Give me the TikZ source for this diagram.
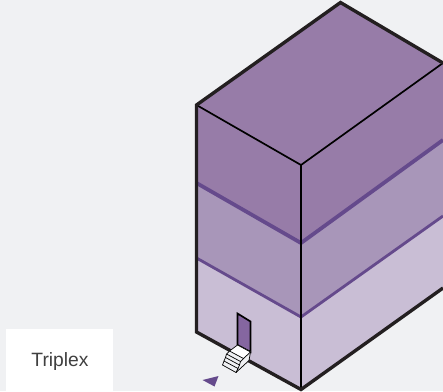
\documentclass[tikz,border=0pt]{standalone}
\usepackage{fontspec}
\setmainfont{Liberation Sans}
\usepackage{xcolor}
\definecolor{tpbg}{RGB}{240,241,243}
\definecolor{tptop}{RGB}{151,124,168}
\definecolor{tpmid}{RGB}{168,150,185}
\definecolor{tplow}{RGB}{201,190,213}
\definecolor{tpline}{RGB}{101,74,140}
\definecolor{tpdoor}{RGB}{133,102,160}
\definecolor{tpdark}{RGB}{35,31,32}
\tikzset{
  outline/.style={tpdark, line width=2.4pt, line join=miter},
  edgeline/.style={black, line width=1.2pt},
  floorline/.style={tpline, line width=#1},
  stepline/.style={black, line width=0.5pt}
}

\begin{document}
\begin{tikzpicture}[x=0.025cm, y=-0.025cm]
  % Background
  \fill[tpbg] (0,0) rectangle (443,391);
  \useasboundingbox (0,0) rectangle (443,391);

  % Label box
  \fill[white] (6,329) rectangle (113,391);
  \node[font=\fontsize{13.7}{16}\selectfont, text=black!75, anchor=center] (label) at (60,362) {Triplex};

  % Floors
  \fill[tplow] (196.5,258) -- (301,317) -- (443,216) -- (443,288) -- (301,389.5) -- (196.5,332) -- cycle;
  \fill[tpmid] (196.5,183) -- (301,243) -- (443,140) -- (443,216) -- (301,317) -- (196.5,258) -- cycle;
  \fill[tptop] (340.5,2.5) -- (443,63) -- (443,140) -- (301,243) -- (196.5,183) -- (196.5,105) -- cycle;

  % Floor lines
  \draw[floorline=2.7pt] (196.5,183) -- (301,243) -- (443,140);
  \draw[floorline=2pt] (196.5,258) -- (301,317) -- (443,216);

  % Inner edges
  \draw[edgeline] (196.5,105) -- (301,165) -- (443,63);
  \draw[edgeline] (301,165) -- (301,389.5);

  % Door
  \draw[fill=tpdoor, draw=black, line width=1.2pt] (237.5,345) -- (237.5,313.5) -- (250.5,321.5) -- (250.5,352) -- cycle;

  % Outline
  \draw[outline] (443,288) -- (301,389.5) -- (196.5,332) -- (196.5,105) -- (340.5,2.5) -- (443,63);

  % Stairs
  \draw[fill=tpbg, draw=none] (237.5,345) -- (250.5,352) -- (249,360.5) -- (236,372.5) -- (222.5,365) -- (224,360) -- (229.5,351) -- cycle;
  \draw[stepline, fill=white] (237.5,345) -- (250.5,352) -- (243.5,358.5) -- (229.5,351) -- cycle;
  \draw[stepline] (250.5,352) -- (249,360.5) -- (236,372.5);
  \draw[stepline] (229.5,351) -- (226.5,354) -- (240.5,361.5) -- (243.5,358.5);
  \draw[stepline] (226.5,354) -- (225.5,357.5) -- (239.5,365) -- (240.5,361.5);
  \draw[stepline] (225.5,357.5) -- (224,361) -- (238,368.5) -- (239.5,365);
  \draw[stepline] (224,361) -- (222.5,365) -- (236,372.5) -- (238,368.5);

  % Entrance arrow
  \fill[tpline] (202.5,380) -- (218.5,376) -- (214.5,386.5) -- cycle;
\end{tikzpicture}
\end{document}
